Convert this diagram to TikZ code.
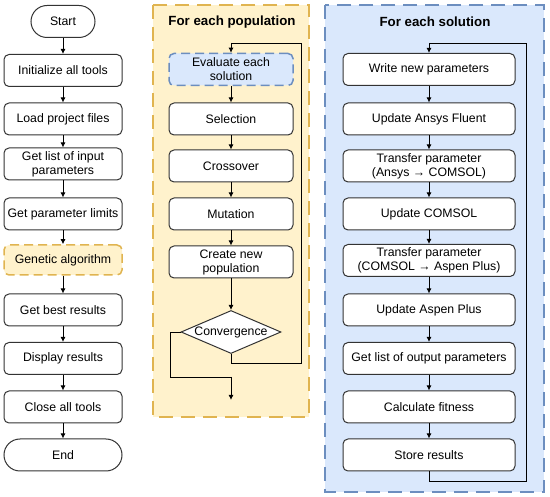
\documentclass[tikz,border=0pt]{standalone}
\usepackage{fontspec}
\setmainfont{Liberation Sans}
\usetikzlibrary{shapes.geometric,arrows.meta}
\definecolor{yfill}{HTML}{FFF2CC}
\definecolor{ydraw}{HTML}{E0B450}
\definecolor{bfill}{HTML}{DAE8FC}
\definecolor{bdraw}{HTML}{6C8EBF}
\definecolor{ink}{HTML}{333333}
\tikzset{
  box/.style={draw=ink, line width=1pt, fill=white, rounded corners=5pt, minimum height=32pt, align=center, font=\fontsize{12.3}{14}\selectfont, inner sep=1pt},
  lbox/.style={box, minimum width=118pt},
  mbox/.style={box, minimum width=124pt},
  rbox/.style={box, minimum width=172pt},
  term/.style={box, rounded corners=16pt},
  conn/.style={draw=black, line width=0.9pt, -{Latex[length=5pt,width=5pt]}},
  line/.style={draw=black, line width=0.9pt},
  panelY/.style={draw=ydraw, fill=yfill, line width=2pt, dash pattern=on 14pt off 8pt},
  panelB/.style={draw=bdraw, fill=bfill, line width=2pt, dash pattern=on 14pt off 8pt},
  title/.style={font=\bfseries\fontsize{13.3}{15}\selectfont},
}
\begin{document}
\begin{tikzpicture}[x=1pt,y=-1pt]
\useasboundingbox (0,0) rectangle (550,497);
% panels
\draw[panelY] (153,5) rectangle (309,417);
\draw[panelB] (325,5) rectangle (544,492);
\node[title] (tY) at (232,22) {For each population};
\node[title] (tB) at (435,22) {For each solution};

% left column
\node[term, minimum width=64pt] (start) at (63,21.5) {Start};
\node[lbox] (init) at (63,70.5) {Initialize all tools};
\node[lbox] (load) at (63,119) {Load project files};
\node[lbox] (glist) at (63,164) {Get list of input\\parameters};
\node[lbox] (lim) at (63,214) {Get parameter limits};
\node[lbox, draw=ydraw, fill=yfill, line width=1.5pt, dash pattern=on 9pt off 5pt, minimum height=30pt] (ga) at (63,260) {Genetic algorithm};
\node[lbox] (best) at (63,310) {Get best results};
\node[lbox] (disp) at (63,358.5) {Display results};
\node[lbox] (close) at (63,407) {Close all tools};
\node[term, minimum width=118pt] (endn) at (63,455) {End};
\draw[conn] (start) -- (init);
\draw[conn] (init) -- (load);
\draw[conn] (load) -- (glist);
\draw[conn] (glist) -- (lim);
\draw[conn] (lim) -- (ga);
\draw[conn] (ga) -- (best);
\draw[conn] (best) -- (disp);
\draw[conn] (disp) -- (close);
\draw[conn] (close) -- (endn);

% middle column
\node[mbox, draw=bdraw, fill=bfill, line width=1.5pt, dash pattern=on 9pt off 5pt] (eval) at (231,69.5) {Evaluate each\\solution};
\node[mbox] (sel) at (231,119) {Selection};
\node[mbox] (cross) at (231,166) {Crossover};
\node[mbox] (mut) at (231,214) {Mutation};
\node[mbox] (create) at (231,262) {Create new\\population};
\node[diamond, draw=ink, line width=1pt, fill=white, minimum width=100pt, minimum height=43pt, inner sep=0pt, aspect=2.3, font=\fontsize{12.3}{14}\selectfont] (conv) at (231,332) {Convergence};
\draw[conn] (eval) -- (sel);
\draw[conn] (sel) -- (cross);
\draw[conn] (cross) -- (mut);
\draw[conn] (mut) -- (create);
\draw[conn] (create) -- (conv);
\coordinate (m1) at (231,363);
\coordinate (m2) at (301,363);
\coordinate (m3) at (301,43);
\coordinate (m4) at (231,43);
\draw[line] (conv.south) -- (m1) -- (m2) -- (m3) -- (m4);
\draw[conn] (m4) -- (eval);
\coordinate (e1) at (170,332);
\coordinate (e2) at (170,377);
\coordinate (e3) at (231,377);
\coordinate (e4) at (231,400);
\draw[line] (conv.west) -- (e1) -- (e2) -- (e3);
\draw[conn] (e3) -- (e4);

% right column
\node[rbox] (write) at (429,69.5) {Write new parameters};
\node[rbox] (ansys) at (429,119) {Update Ansys Fluent};
\node[rbox] (tr1) at (429,166) {Transfer parameter\\(Ansys → COMSOL)};
\node[rbox] (comsol) at (429,214) {Update COMSOL};
\node[rbox] (tr2) at (429,260.5) {Transfer parameter\\(COMSOL → Aspen Plus)};
\node[rbox] (aspen) at (429,310) {Update Aspen Plus};
\node[rbox] (olist) at (429,358.5) {Get list of output parameters};
\node[rbox] (fit) at (429,407) {Calculate fitness};
\node[rbox] (store) at (429,455) {Store results};
\draw[conn] (write) -- (ansys);
\draw[conn] (ansys) -- (tr1);
\draw[conn] (tr1) -- (comsol);
\draw[conn] (comsol) -- (tr2);
\draw[conn] (tr2) -- (aspen);
\draw[conn] (aspen) -- (olist);
\draw[conn] (olist) -- (fit);
\draw[conn] (fit) -- (store);
\coordinate (r1) at (429,481);
\coordinate (r2) at (526,481);
\coordinate (r3) at (526,43);
\coordinate (r4) at (429,43);
\draw[line] (store.south) -- (r1) -- (r2) -- (r3) -- (r4);
\draw[conn] (r4) -- (write);
\end{tikzpicture}
\end{document}
